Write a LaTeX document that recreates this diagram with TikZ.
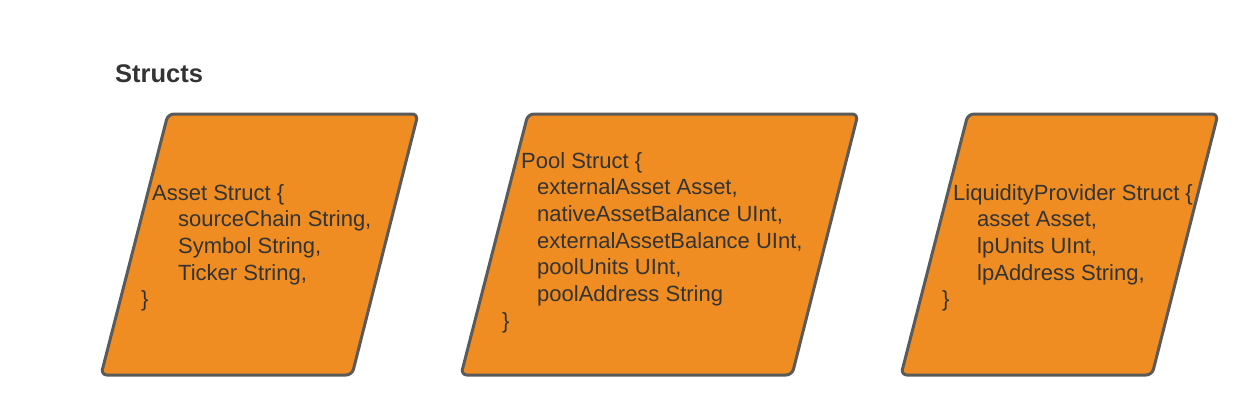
\documentclass[tikz,border=0pt]{standalone}
\usepackage{fontspec}
\setmainfont{Liberation Sans}
\definecolor{boxfill}{HTML}{EF8D22}
\definecolor{boxline}{HTML}{5A5A5A}
\definecolor{txt}{HTML}{333333}
\begin{document}
\begin{tikzpicture}[x=1pt,y=-1pt,
  structbox/.style={fill=boxfill,draw=boxline,line width=3pt,rounded corners=6pt,line join=round},
  ln/.style={anchor=base west,inner sep=0pt,text=txt,font=\fontsize{22}{26}\selectfont},
  ttl/.style={anchor=base west,inner sep=0pt,text=txt,font=\fontsize{25.5}{30}\selectfont\bfseries}]
\useasboundingbox (0,0) rectangle (1260,416);
\node[ttl] (title) at (115,82) {Structs};
% Asset
\coordinate (A1) at (168,114); \coordinate (A2) at (418,114);
\coordinate (A3) at (352,375); \coordinate (A4) at (101,375);
\draw[structbox] (A1) -- (A2) -- (A3) -- (A4) -- cycle;
\node[ln] (a1) at (152,200) {Asset Struct \{};
\node[ln] (a2) at (178,226.7) {sourceChain String,};
\node[ln] (a3) at (178,253.3) {Symbol String,};
\node[ln] (a4) at (178,280) {Ticker String,};
\node[ln] (a5) at (141,306.7) {\}};
% Pool
\coordinate (P1) at (528,114); \coordinate (P2) at (858,114);
\coordinate (P3) at (792,375); \coordinate (P4) at (461,375);
\draw[structbox] (P1) -- (P2) -- (P3) -- (P4) -- cycle;
\node[ln] (p1) at (521,168) {Pool Struct \{};
\node[ln] (p2) at (537,194.7) {externalAsset Asset,};
\node[ln] (p3) at (537,221.3) {nativeAssetBalance UInt,};
\node[ln] (p4) at (537,248) {externalAssetBalance UInt,};
\node[ln] (p5) at (537,274.7) {poolUnits UInt,};
\node[ln] (p6) at (537,301.3) {poolAddress String};
\node[ln] (p7) at (502,328) {\}};
% Liquidity provider
\coordinate (L1) at (968,114); \coordinate (L2) at (1218,114);
\coordinate (L3) at (1152,375); \coordinate (L4) at (901,375);
\draw[structbox] (L1) -- (L2) -- (L3) -- (L4) -- cycle;
\node[ln] (l1) at (953,200) {LiquidityProvider Struct \{};
\node[ln] (l2) at (977,226.7) {asset Asset,};
\node[ln] (l3) at (977,253.3) {lpUnits UInt,};
\node[ln] (l4) at (977,280) {lpAddress String,};
\node[ln] (l5) at (942,306.7) {\}};
\end{tikzpicture}
\end{document}
